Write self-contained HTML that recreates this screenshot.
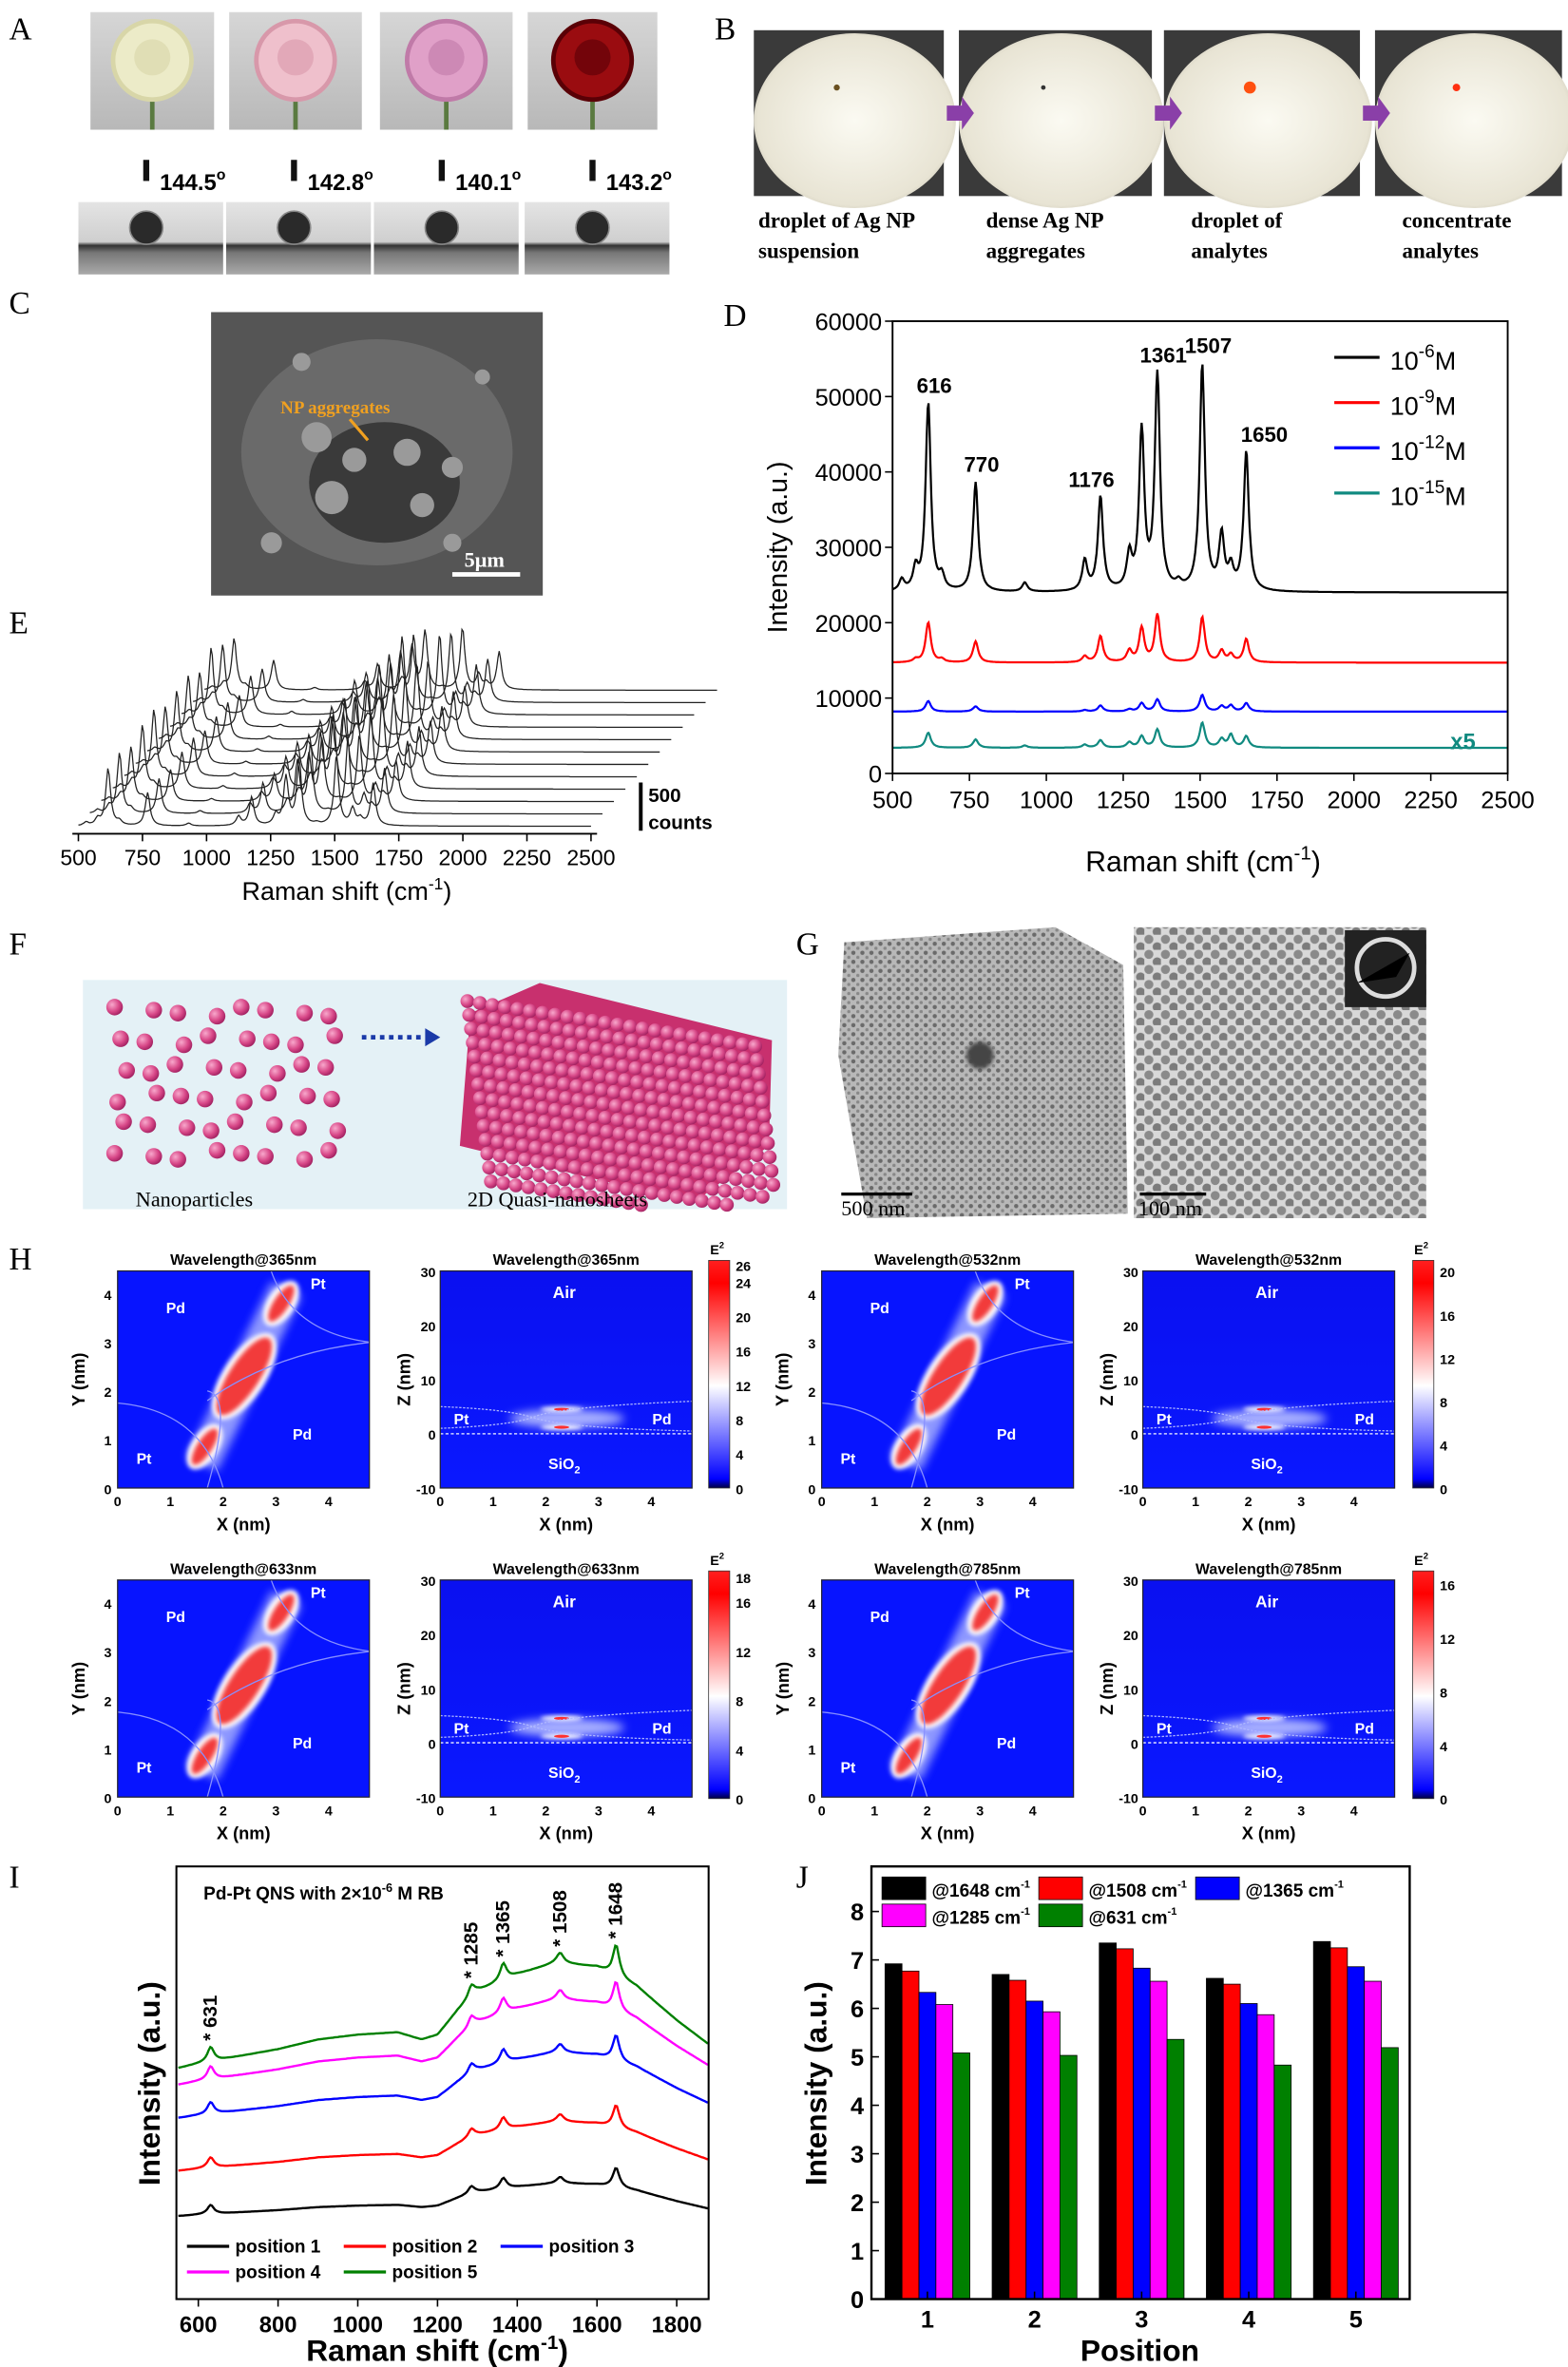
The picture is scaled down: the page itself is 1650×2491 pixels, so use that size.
<!DOCTYPE html>
<html><head><meta charset="utf-8"><style>
html,body{margin:0;padding:0;background:#fff}
svg{display:block}
text{font-family:"Liberation Sans",sans-serif}
.serif{font-family:"Liberation Serif",serif}
.b{font-weight:bold}
</style></head><body>
<svg id="fig" width="1650" height="2491" viewBox="0 0 1040 1570" xmlns="http://www.w3.org/2000/svg">
<defs>
<filter id="blur3" x="-50%" y="-50%" width="200%" height="200%"><feGaussianBlur stdDeviation="3"/></filter>
<filter id="blur1" x="-50%" y="-50%" width="200%" height="200%"><feGaussianBlur stdDeviation="1.5"/></filter>
<linearGradient id="cbar" x1="0" y1="1" x2="0" y2="0">
<stop offset="0" stop-color="#000040"/><stop offset="0.04" stop-color="#0000ff"/><stop offset="0.45" stop-color="#ffffff"/><stop offset="0.9" stop-color="#ff0000"/><stop offset="1" stop-color="#ff2020"/></linearGradient>
<linearGradient id="bgGray" x1="0" y1="0" x2="0" y2="1"><stop offset="0" stop-color="#d6d6d6"/><stop offset="1" stop-color="#b8b8b8"/></linearGradient>
<linearGradient id="strip" x1="0" y1="0" x2="0" y2="1"><stop offset="0" stop-color="#e4e4e4"/><stop offset="0.55" stop-color="#cfcfcf"/><stop offset="0.6" stop-color="#333"/><stop offset="0.7" stop-color="#777"/><stop offset="1" stop-color="#aaa"/></linearGradient>
<radialGradient id="petal" cx="0.5" cy="0.5" r="0.6"><stop offset="0" stop-color="#fbfaf2"/><stop offset="0.8" stop-color="#e8e4d4"/><stop offset="1" stop-color="#b8b4a4"/></radialGradient>
<radialGradient id="sphere" cx="0.35" cy="0.35" r="0.7"><stop offset="0" stop-color="#f8a8cc"/><stop offset="0.6" stop-color="#d84888"/><stop offset="1" stop-color="#a02060"/></radialGradient>
<pattern id="tem1" width="6" height="6" patternUnits="userSpaceOnUse"><rect width="6" height="6" fill="#b8b8b8"/><circle cx="2" cy="2" r="1.4" fill="#6a6a6a"/><circle cx="5" cy="5" r="1.1" fill="#888"/></pattern>
<pattern id="tem2" width="11" height="10" patternUnits="userSpaceOnUse"><rect width="11" height="10" fill="#d8d8d8"/><circle cx="3" cy="3" r="3" fill="#8a8a8a"/><circle cx="8.5" cy="8" r="3" fill="#7c7c7c"/></pattern>
<linearGradient id="zxbg" x1="0" y1="0" x2="0" y2="1"><stop offset="0" stop-color="#0a10f0"/><stop offset="1" stop-color="#0a18ff"/></linearGradient>
</defs>

<g class="serif" font-size="21">
<text class="serif" x="6" y="26">A</text><text class="serif" x="474" y="26">B</text>
<text class="serif" x="6" y="208">C</text><text class="serif" x="480" y="216">D</text>
<text class="serif" x="6" y="420">E</text><text class="serif" x="6" y="633">F</text>
<text class="serif" x="528" y="633">G</text><text class="serif" x="6" y="842">H</text>
<text class="serif" x="6" y="1252">I</text><text class="serif" x="528" y="1252">J</text>
</g>

<g id="panelA"></g>
<g id="panelB"></g>
<g font-size="14.5" font-weight="bold">
<text class="serif" x="503" y="151">droplet of Ag NP</text><text class="serif" x="503" y="171">suspension</text>
<text class="serif" x="654" y="151">dense Ag NP</text><text class="serif" x="654" y="171">aggregates</text>
<text class="serif" x="790" y="151">droplet of</text><text class="serif" x="790" y="171">analytes</text>
<text class="serif" x="930" y="151">concentrate</text><text class="serif" x="930" y="171">analytes</text>
</g>
<g id="panelC"></g>
<g id="panelD"></g>
<g id="panelE"></g>
<g id="panelF"></g>
<g id="panelG"></g>
<g id="panelH"></g>
<g id="panelI"></g>
<g id="panelJ"></g>
</svg>

<script>
// ---------- Panel D data ----------
const dTicksX=[500,750,1000,1250,1500,1750,2000,2250,2500];
const dTicksY=[0,10000,20000,30000,40000,50000,60000];
const dSeriesNames=['-6','-9','-12','-15'];
const dColors=['#000','#ff0000','#0000ff','#108a80'];
const dBaselines=[24000,14700,8200,3400];
const dPeakPos=[530,575,616,660,770,930,1125,1176,1270,1310,1361,1430,1507,1570,1600,1650];
const dPeakBlack=[1500,2800,25000,1800,14500,1200,4000,12500,4500,21000,28500,800,30000,7200,2800,18500];
const dPeakRed=[0,400,5300,400,2800,0,800,3500,1500,4500,6300,0,6000,1500,1000,3100];
const dPeakBlue=[0,0,1400,0,700,0,200,800,300,1100,1600,0,2200,700,800,1100];
const dPeakTeal=[0,0,2000,0,1100,300,400,1000,700,1500,2400,0,3300,1100,1700,1500];
const dPeakLabels=['616','770','1176','1361','1507','1650'];
const dPeakLabelY=[50500,40000,38000,54500,55800,44000];
// ---------- Panel E data ----------
const eTicks=[500,750,1000,1250,1500,1750,2000,2250,2500];
const eScales=[0.95,1.0,0.9,1.05,1.1,0.95,1.0,1.05,0.9,1.1,0.95,0.85];
// ---------- Panel I data ----------
const iTicks=[600,800,1000,1200,1400,1600,1800];
const iBgX=[545,600,700,800,900,1000,1100,1160,1200,1250,1300,1400,1500,1600,1700,1800,1880];
const iBgY=[0.0,0.1,0.25,0.4,0.6,0.7,0.75,0.6,0.7,1.2,1.6,1.95,2.2,2.1,1.7,1.0,0.5];
const iBgScale=[1,1.5,2.0,2.6,3.2];
const iPeakPos=[631,1285,1365,1508,1648];
const iPeakH=[0.6,0.5,0.7,0.4,1.3];
const iOffsets=[5.5,8.5,12,14.2,15.3];
const iNames=['position 1','position 2','position 3','position 4','position 5'];
const iColors=['#000','#ff0000','#0000ff','#ff00ff','#008000'];
const iPeakLabels=['631','1285','1365','1508','1648'];
// ---------- Panel J data ----------
const jCats=['1','2','3','4','5'];
const jSeriesNames=['@1648 cm','@1508 cm','@1365 cm','@1285 cm','@631 cm'];
const jColors=['#000','#ff0000','#0000ff','#ff00ff','#008000'];
const j1648=[6.92,6.70,7.35,6.62,7.38];
const j1508=[6.77,6.58,7.23,6.50,7.25];
const j1365=[6.33,6.15,6.83,6.10,6.86];
const j1285=[6.08,5.93,6.56,5.87,6.56];
const j631=[5.08,5.03,5.36,4.83,5.19];
const jTicks=[0,1,2,3,4,5,6,7,8];
// ---------- Panel H data ----------
const hTitles=['Wavelength@365nm','Wavelength@532nm','Wavelength@633nm','Wavelength@785nm'];
const hCbarTicks=[[0,4,8,12,16,20,24,26],[0,4,8,12,16,20],[0,4,8,12,16,18],[0,4,8,12,16]];
const hCbarMax=[26.5,21,18.5,17];
const hXTicks=[0,1,2,3,4];
const hYTicks=[0,1,2,3,4];
const hZTicks=[-10,0,10,20,30];

const NS='http://www.w3.org/2000/svg';
function mk(tag,attrs,parent,name,inter){
  const el=document.createElementNS(NS,tag);
  for(const k in attrs) el.setAttribute(k,attrs[k]);
  
  
  parent.appendChild(el);return el;
}
function txt(parent,x,y,s,attrs,name){
  const a=Object.assign({x:x,y:y},attrs||{});
  const t=mk('text',a,parent,name||'label');
  t.textContent=s;return t;
}
function lor(x,ps,hs,w){let s=0;for(let i=0;i<ps.length;i++){const d=(x-ps[i])/w;s+=hs[i]/(1+d*d);}return s;}

// ---------- A ----------
(function(){
 const g=document.getElementById('panelA');
 const photos=[[60,82,'#ecebc8','#d8d6a8'],[152,88,'#efc0cc','#d898aa'],[252,88,'#e0a0c8','#c07aa8'],[350,86,'#9a0c10','#5a0006']];
 photos.forEach((p,i)=>{
  mk('rect',{x:p[0],y:8,width:p[1],height:78,fill:'url(#bgGray)'},g,'rose-photo-'+(i+1));
  mk('line',{x1:p[0]+p[1]/2,y1:60,x2:p[0]+p[1]/2,y2:86,stroke:'#5a7a40','stroke-width':3},g,'rose-stem');
  mk('circle',{cx:p[0]+p[1]/2,cy:40,r:26,fill:p[2],stroke:p[3],'stroke-width':3},g,'rose-flower');
  mk('circle',{cx:p[0]+p[1]/2,cy:38,r:12,fill:p[3],opacity:0.6},g,'rose-center');
 });
 const strips=[[52,96],[150,96],[248,96],[348,96]];
 const ang=['144.5','142.8','140.1','143.2'];
 strips.forEach((s,i)=>{
  mk('rect',{x:s[0],y:134,width:s[1],height:48,fill:'url(#strip)'},g,'contact-angle-image-'+(i+1));
  mk('circle',{cx:s[0]+s[1]/2-3,cy:151,r:11,fill:'#2a2a2a',stroke:'#888','stroke-width':1},g,'water-droplet');
  mk('rect',{x:s[0]+s[1]/2-5,y:106,width:4,height:14,fill:'#111'},g,'needle');
  const t=txt(g,s[0]+s[1]/2+6,126,ang[i],{'font-size':15,'font-weight':'bold'},'contact-angle-value');
  const ts=mk('tspan',{dy:-7,'font-size':10},t,'degree-sign');ts.textContent='o';
 });
})();

// ---------- B ----------
(function(){
 const g=document.getElementById('panelB');
 const ph=[[500,126,'#6a5020',2],[636,128,'#333',1.5],[772,130,'#ff5010',4],[912,124,'#ff3010',2.5]];
 ph.forEach((p,i)=>{
  mk('rect',{x:p[0],y:20,width:p[1],height:110,fill:'#3a3a3a'},g,'petal-photo-'+(i+1));
  mk('ellipse',{cx:p[0]+p[1]/2+4,cy:80,rx:p[1]/2+4,ry:58,fill:'url(#petal)'},g,'petal');
  mk('circle',{cx:p[0]+p[1]/2-8,cy:58,r:p[3],fill:p[2]},g,'droplet');
 });
 for(let i=0;i<3;i++){
  const x=628+i*138;
  mk('polygon',{points:`${x},70 ${x+10},70 ${x+10},64 ${x+18},75 ${x+10},86 ${x+10},80 ${x},80`,fill:'#8a3fa8'},g,'process-arrow');
 }
})();

// ---------- C ----------
(function(){
 const g=document.getElementById('panelC');
 mk('rect',{x:140,y:207,width:220,height:188,fill:'#555'},g,'sem-background');
 mk('ellipse',{cx:250,cy:300,rx:90,ry:75,fill:'#6a6a6a'},g,'sem-particle');
 mk('ellipse',{cx:255,cy:320,rx:50,ry:40,fill:'#3a3a3a'},g,'sem-aggregate');
 const blobs=[[210,290,10],[235,305,8],[270,300,9],[220,330,11],[280,335,8],[300,310,7],[200,240,6],[320,250,5],[180,360,7],[300,360,6]];
 blobs.forEach(b=>mk('circle',{cx:b[0],cy:b[1],r:b[2],fill:'#9a9a9a'},g,'sem-blob'));
 txt(g,186,274,'NP aggregates',{'font-size':12,'font-weight':'bold',fill:'#f0a020',class:'serif'},'np-aggregates-annotation');
 mk('path',{d:'M232 278 L244 292',stroke:'#f0a020','stroke-width':2},g,'annotation-arrow');
 mk('line',{x1:300,y1:381,x2:345,y2:381,stroke:'#fff','stroke-width':3},g,'scale-bar');
 txt(g,308,376,'5μm',{'font-size':14,'font-weight':'bold',fill:'#fff',class:'serif'},'scale-bar-label');
})();

// ---------- D ----------
(function(){
 const g=document.getElementById('panelD');
 const X0=592,X1=1000,Y0=513,Y1=213;
 const xS=v=>X0+(v-500)/2000*(X1-X0);
 const yS=v=>Y0-v/60000*(Y0-Y1);
 const peaks=[dPeakBlack,dPeakRed,dPeakBlue,dPeakTeal];
 for(let s=3;s>=0;s--){
  let d='';
  for(let x=500;x<=2500;x+=3){const y=dBaselines[s]+lor(x,dPeakPos,peaks[s],10);d+=(x===500?'M':'L')+xS(x).toFixed(1)+' '+yS(y).toFixed(1);}
  mk('path',{d:d,fill:'none',stroke:dColors[s],'stroke-width':1.4},g,'spectrum-10'+dSeriesNames[s]+'M');
 }
 mk('rect',{x:X0,y:Y1,width:X1-X0,height:Y0-Y1,fill:'none',stroke:'#000','stroke-width':1.2},g,'plot-frame');
 dTicksX.forEach(v=>{mk('line',{x1:xS(v),y1:Y0,x2:xS(v),y2:Y0+5,stroke:'#000'},g,'x-tick');txt(g,xS(v),Y0+23,String(v),{'font-size':16,'text-anchor':'middle'},'x-tick-label');});
 dTicksY.forEach(v=>{mk('line',{x1:X0,y1:yS(v),x2:X0-5,y2:yS(v),stroke:'#000'},g,'y-tick');txt(g,X0-7,yS(v)+6,String(v),{'font-size':16,'text-anchor':'end'},'y-tick-label');});
 const labPos=[616,770,1176,1361,1507,1650];
 dPeakLabels.forEach((l,i)=>txt(g,xS(labPos[i])+(i==2?-6:i==5?12:4),yS(dPeakLabelY[i]),l,{'font-size':14,'font-weight':'bold','text-anchor':'middle'},'peak-label-'+l));
 dSeriesNames.forEach((n,i)=>{
  const y=237+i*30;
  mk('line',{x1:885,y1:y,x2:915,y2:y,stroke:dColors[i],'stroke-width':2},g,'legend-line');
  const t=txt(g,922,y+8,'10',{'font-size':17},'legend-entry-10'+n+'M');
  const sp=mk('tspan',{dy:-8,'font-size':12},t,'exponent');sp.textContent=n;
  const m=mk('tspan',{dy:8},t,'unit');m.textContent='M';
 });
 txt(g,962,497,'x5',{'font-size':15,'font-weight':'bold',fill:'#108a80'},'x5-annotation');
 txt(g,522,363,'Intensity (a.u.)',{'font-size':18,'text-anchor':'middle',transform:'rotate(-90 522 363)'},'y-axis-title');
 const xt=txt(g,798,578,'Raman shift (cm',{'font-size':19,'text-anchor':'middle'},'x-axis-title');
 const e1=mk('tspan',{dy:-8,'font-size':13},xt,'exponent');e1.textContent='-1';
 const e2=mk('tspan',{dy:8},xt,'paren');e2.textContent=')';
})();

// ---------- E ----------
(function(){
 const g=document.getElementById('panelE');
 const X0=52,X1=392,base=548;
 const xS=v=>X0+(v-500)/2000*(X1-X0);
 for(let s=eScales.length-1;s>=0;s--){
  const dx=s*7.6,dy=-s*8.2;let d='';
  for(let x=500;x<=2500;x+=5){const y=base+dy-lor(x,dPeakPos,dPeakBlack,11)*0.0016*eScales[s];d+=(x===500?'M':'L')+(xS(x)+dx).toFixed(1)+' '+y.toFixed(1);}
  mk('path',{d:d,fill:'none',stroke:'#222','stroke-width':0.8},g,'waterfall-spectrum-'+(s+1));
 }
 mk('line',{x1:48,y1:553,x2:396,y2:553,stroke:'#000','stroke-width':1.2},g,'x-axis-line');
 eTicks.forEach(v=>{mk('line',{x1:xS(v),y1:553,x2:xS(v),y2:558,stroke:'#000'},g,'x-tick');txt(g,xS(v),574,String(v),{'font-size':14.5,'text-anchor':'middle'},'x-tick-label');});
 const xt=txt(g,230,597,'Raman shift (cm',{'font-size':17,'text-anchor':'middle'},'x-axis-title');
 const e1=mk('tspan',{dy:-7,'font-size':11},xt,'exponent');e1.textContent='-1';
 const e2=mk('tspan',{dy:7},xt,'paren');e2.textContent=')';
 mk('line',{x1:425,y1:519,x2:425,y2:551,stroke:'#000','stroke-width':2.5},g,'scale-bar');
 txt(g,430,532,'500',{'font-size':13,'font-weight':'bold'},'scale-bar-value');
 txt(g,430,550,'counts',{'font-size':13,'font-weight':'bold'},'scale-bar-unit');
})();

// ---------- F ----------
(function(){
 const g=document.getElementById('panelF');
 mk('rect',{x:55,y:650,width:467,height:152,fill:'#e4f1f6'},g,'schematic-background');
 for(let r=0;r<6;r++)for(let c=0;c<8;c++){
  const x=76+c*20+((r*7+c*3)%5)*2,y=668+r*19+((c*5+r)%4)*2;
  mk('circle',{cx:x,cy:y,r:5.5,fill:'url(#sphere)'},g,'nanoparticle');
 }
 mk('line',{x1:240,y1:688,x2:282,y2:688,stroke:'#1a3aa8','stroke-width':3,'stroke-dasharray':'3 3'},g,'transform-arrow');
 mk('polygon',{points:'282,682 292,688 282,694',fill:'#1a3aa8'},g,'arrow-head');
 mk('polygon',{points:'312,672 358,652 512,690 510,760 460,798 305,760',fill:'#c8306e'},g,'nanosheet-body');
 for(let r=0;r<14;r++)for(let c=0;c<24;c++){
  const x=310+c*8.3+r*1.2,y=664+r*9.2+c*1.3;
  if(y<800&&x<514) mk('circle',{cx:x,cy:y,r:4.6,fill:'url(#sphere)'},g,'nanosheet-sphere');
 }
 txt(g,90,800,'Nanoparticles',{'font-size':14,class:'serif'},'nanoparticles-caption');
 txt(g,310,800,'2D Quasi-nanosheets',{'font-size':14,class:'serif'},'nanosheets-caption');
})();

// ---------- G ----------
(function(){
 const g=document.getElementById('panelG');
 mk('rect',{x:555,y:615,width:193,height:193,fill:'#fff'},g,'tem-low-mag-bg');
 mk('polygon',{points:'560,625 700,615 745,640 748,805 575,808 556,700',fill:'url(#tem1)'},g,'tem-low-mag');
 mk('circle',{cx:650,cy:700,r:9,fill:'#444',filter:'url(#blur1)'},g,'tem-dark-spot');
 mk('rect',{x:752,y:615,width:194,height:193,fill:'url(#tem2)'},g,'tem-high-mag');
 mk('rect',{x:892,y:617,width:54,height:51,fill:'#222'},g,'saed-inset');
 mk('circle',{cx:919,cy:642,r:19,fill:'none',stroke:'#ddd','stroke-width':3},g,'saed-ring');
 mk('path',{d:'M900 652 L935 632 L926 648 Z',fill:'#000'},g,'beam-stop');
 mk('line',{x1:558,y1:792,x2:605,y2:792,stroke:'#000','stroke-width':2},g,'scale-bar-500');
 txt(g,558,806,'500 nm',{'font-size':14,class:'serif'},'scale-label-500nm');
 mk('line',{x1:756,y1:792,x2:800,y2:792,stroke:'#000','stroke-width':2},g,'scale-bar-100');
 txt(g,755,806,'100 nm',{'font-size':14,class:'serif'},'scale-label-100nm');
})();

// ---------- H ----------
(function(){
 const g=document.getElementById('panelH');
 const W=167;
 const panels=[[78,843,292,470,836,0],[545,843,758,937,836,1],[78,1048,292,470,1042,2],[545,1048,758,937,1042,3]];
 panels.forEach(p=>{
  const [xx,yy,zx,cbx,cby,k]=p;const H=144;
  const xS=v=>xx+v*35, yS=v=>yy+H-v*H/4.47;
  mk('text',{x:xx+W/2,y:yy-4,'font-size':10,'font-weight':'bold','text-anchor':'middle'},g,'map-title').textContent=hTitles[k];
  const cid='clipxy'+k;const cp=mk('clipPath',{id:cid},g,'clip');mk('rect',{x:xx,y:yy,width:W,height:H},cp,'clip-rect');
  const m=mk('g',{'clip-path':`url(#${cid})`},g,'xy-field-map');
  mk('rect',{x:xx,y:yy,width:W,height:H,fill:'#0714ff'},m,'map-background');
  mk('line',{x1:xS(1.6),y1:yS(0.5),x2:xS(3.2),y2:yS(4.1),stroke:'#c8d0ff','stroke-width':22,filter:'url(#blur3)',opacity:0.7},m,'hotspot-glow');
  const blobs=[[1.65,0.85,7,14],[2.4,2.3,12,30],[3.1,3.8,7,14]];
  blobs.forEach(b=>{
   const cx=xS(b[0]),cy=yS(b[1]);const rot=`rotate(-57 ${cx} ${cy})`;
   mk('ellipse',{cx:cx,cy:cy,rx:b[3]+3,ry:b[2]+2,fill:'#fff',transform:rot,filter:'url(#blur1)'},m,'hotspot-white');
   mk('ellipse',{cx:cx,cy:cy,rx:b[3],ry:b[2]-2,fill:'#f23a3a',transform:rot,filter:'url(#blur1)'},m,'hotspot-red');
  });
  mk('path',{d:`M${xS(0)} ${yS(1.75)} Q${xS(1.6)} ${yS(1.6)} ${xS(2)} ${yS(0)} M${xS(1.7)} ${yS(2.0)} Q${xS(2.2)} ${yS(1.9)} ${xS(1.7)} ${yS(0)} M${xS(2.9)} ${yS(4.5)} Q${xS(3.3)} ${yS(3.2)} ${xS(4.8)} ${yS(3.0)} M${xS(1.7)} ${yS(1.8)} Q${xS(3)} ${yS(2.8)} ${xS(4.8)} ${yS(3.0)}`,fill:'none',stroke:'#8890ff','stroke-width':0.8},m,'interface-lines');
  [['Pd',1.1,3.6],['Pt',3.8,4.1],['Pt',0.5,0.5],['Pd',3.5,1.0]].forEach(l=>txt(m,xS(l[1]),yS(l[2]),l[0],{'font-size':10,'font-weight':'bold',fill:'#fff','text-anchor':'middle'},'region-label'));
  mk('rect',{x:xx,y:yy,width:W,height:H,fill:'none',stroke:'#223','stroke-width':0.8},g,'map-frame');
  hXTicks.forEach(v=>txt(g,xS(v),yy+H+12,String(v),{'font-size':9,'font-weight':'bold','text-anchor':'middle'},'x-tick-label'));
  hYTicks.forEach(v=>txt(g,xx-4,yS(v)+4,String(v),{'font-size':9,'font-weight':'bold','text-anchor':'end'},'y-tick-label'));
  txt(g,xx+W/2,yy+H+28,'X (nm)',{'font-size':11.5,'font-weight':'bold','text-anchor':'middle'},'x-axis-title');
  txt(g,xx-22,yy+H/2,'Y (nm)',{'font-size':11.5,'font-weight':'bold','text-anchor':'middle',transform:`rotate(-90 ${xx-22} ${yy+H/2})`},'y-axis-title');
  const zS=v=>yy+H-(v+10)/40*H, xz=v=>zx+v*35;
  mk('text',{x:zx+W/2,y:yy-4,'font-size':10,'font-weight':'bold','text-anchor':'middle'},g,'map-title').textContent=hTitles[k];
  const cid2='clipzx'+k;const cp2=mk('clipPath',{id:cid2},g,'clip');mk('rect',{x:zx,y:yy,width:W,height:H},cp2,'clip-rect');
  const z=mk('g',{'clip-path':`url(#${cid2})`},g,'zx-field-map');
  mk('rect',{x:zx,y:yy,width:W,height:H,fill:'url(#zxbg)'},z,'map-background');
  mk('ellipse',{cx:xz(2.4),cy:zS(2.8),rx:38,ry:6,fill:'#a8b0ff',filter:'url(#blur3)'},z,'field-glow');
  mk('ellipse',{cx:xz(2.3),cy:zS(4.5),rx:14,ry:1.8,fill:'#fff',filter:'url(#blur1)'},z,'hotspot-top');
  mk('ellipse',{cx:xz(2.3),cy:zS(1.2),rx:14,ry:1.8,fill:'#fff',filter:'url(#blur1)'},z,'hotspot-bottom');
  mk('ellipse',{cx:xz(2.3),cy:zS(4.5),rx:5,ry:1,fill:'#ff3030'},z,'hotspot-core');
  mk('ellipse',{cx:xz(2.3),cy:zS(1.2),rx:5,ry:1,fill:'#ff3030'},z,'hotspot-core');
  mk('path',{d:`M${xz(0)} ${zS(5)} Q${xz(1.3)} ${zS(4.5)} ${xz(1.75)} ${zS(3)} Q${xz(2.2)} ${zS(5)} ${xz(4.8)} ${zS(6)} M${xz(0)} ${zS(1)} Q${xz(1.3)} ${zS(1.5)} ${xz(1.75)} ${zS(3)} Q${xz(2.4)} ${zS(1)} ${xz(4.8)} ${zS(0.5)}`,fill:'none',stroke:'#b0b8ff','stroke-width':0.8,'stroke-dasharray':'1.5 1'},z,'interface-lines');
  mk('line',{x1:zx,y1:zS(0),x2:zx+W,y2:zS(0),stroke:'#d0d4ff','stroke-width':1,'stroke-dasharray':'2 1.5'},z,'substrate-line');
  txt(z,xz(2.35),zS(25),'Air',{'font-size':11,'font-weight':'bold',fill:'#fff','text-anchor':'middle'},'air-label');
  txt(z,xz(0.4),zS(1.7),'Pt',{'font-size':10,'font-weight':'bold',fill:'#fff','text-anchor':'middle'},'pt-label');
  txt(z,xz(4.2),zS(1.7),'Pd',{'font-size':10,'font-weight':'bold',fill:'#fff','text-anchor':'middle'},'pd-label');
  const st=txt(z,xz(2.35),zS(-6.5),'SiO',{'font-size':10,'font-weight':'bold',fill:'#fff','text-anchor':'middle'},'sio2-label');
  const sb=mk('tspan',{dy:3,'font-size':7},st,'subscript');sb.textContent='2';
  mk('rect',{x:zx,y:yy,width:W,height:H,fill:'none',stroke:'#223','stroke-width':0.8},g,'map-frame');
  hXTicks.forEach(v=>txt(g,xz(v),yy+H+12,String(v),{'font-size':9,'font-weight':'bold','text-anchor':'middle'},'x-tick-label'));
  hZTicks.forEach(v=>txt(g,zx-3,zS(v)+4,String(v),{'font-size':9,'font-weight':'bold','text-anchor':'end'},'z-tick-label'));
  txt(g,zx+W/2,yy+H+28,'X (nm)',{'font-size':11.5,'font-weight':'bold','text-anchor':'middle'},'x-axis-title');
  txt(g,zx-20,yy+H/2,'Z (nm)',{'font-size':11.5,'font-weight':'bold','text-anchor':'middle',transform:`rotate(-90 ${zx-20} ${yy+H/2})`},'z-axis-title');
  const ch=151,cw=14;
  mk('rect',{x:cbx,y:cby,width:cw,height:ch,fill:'url(#cbar)',stroke:'#333','stroke-width':0.5},g,'colorbar');
  const ct=txt(g,cbx+1,cby-4,'E',{'font-size':9,'font-weight':'bold'},'colorbar-title');
  const cs=mk('tspan',{dy:-4,'font-size':6},ct,'exponent');cs.textContent='2';
  hCbarTicks[k].forEach(v=>txt(g,cbx+cw+4,cby+ch-v/hCbarMax[k]*ch+4,String(v),{'font-size':9,'font-weight':'bold'},'colorbar-tick-label'));
 });
})();

// ---------- I ----------
(function(){
 const g=document.getElementById('panelI');
 const X0=117,X1=470,Y0=1525,Y1=1238;
 const xS=v=>X0+(v-545)/(1880-545)*(X1-X0);
 const yS=v=>Y0-v*10;
 function bg(x){for(let i=0;i<iBgX.length-1;i++){if(x<=iBgX[i+1]){const t=(x-iBgX[i])/(iBgX[i+1]-iBgX[i]);return iBgY[i]+t*(iBgY[i+1]-iBgY[i]);}}return iBgY[iBgY.length-1];}
 const val=(s,x)=>iOffsets[s]+bg(x)*iBgScale[s]+lor(x,iPeakPos,iPeakH,10)*(1+s*0.15);
 for(let s=0;s<iOffsets.length;s++){
  let d='';
  for(let x=550;x<=1878;x+=4){const y=val(s,x);d+=(x===550?'M':'L')+xS(x).toFixed(1)+' '+yS(y).toFixed(1);}
  mk('path',{d:d,fill:'none',stroke:iColors[s],'stroke-width':1.5},g,'spectrum-'+iNames[s].replace(' ','-'));
 }
 mk('rect',{x:X0,y:Y1,width:X1-X0,height:Y0-Y1,fill:'none',stroke:'#000','stroke-width':1.3},g,'plot-frame');
 iTicks.forEach(v=>{mk('line',{x1:xS(v),y1:Y0,x2:xS(v),y2:Y0+5,stroke:'#000'},g,'x-tick');txt(g,xS(v),Y0+22,String(v),{'font-size':15,'font-weight':'bold','text-anchor':'middle'},'x-tick-label');});
 const tt=txt(g,135,1260,'Pd-Pt QNS with 2×10',{'font-size':12,'font-weight':'bold'},'chart-title');
 const te=mk('tspan',{dy:-5,'font-size':8},tt,'exponent');te.textContent='-6';
 const tr=mk('tspan',{dy:5},tt,'title-rest');tr.textContent=' M RB';
 iPeakLabels.forEach((l,i)=>{
  const x=iPeakPos[i];const y=yS(val(4,x))-4;
  txt(g,xS(x)+4,y,'* '+l,{'font-size':13,'font-weight':'bold',transform:`rotate(-90 ${xS(x)+4} ${y})`},'peak-label-'+l);
 });
 iNames.forEach((n,i)=>{
  const col=i%3,row=Math.floor(i/3);const x=124+col*104,y=1490+row*17;
  mk('line',{x1:x,y1:y,x2:x+28,y2:y,stroke:iColors[i],'stroke-width':2},g,'legend-line');
  txt(g,x+32,y+4,n,{'font-size':12,'font-weight':'bold'},'legend-entry-'+n.replace(' ','-'));
 });
 txt(g,106,1382,'Intensity (a.u.)',{'font-size':20,'font-weight':'bold','text-anchor':'middle',transform:'rotate(-90 106 1382)'},'y-axis-title');
 const xt=txt(g,290,1566,'Raman shift (cm',{'font-size':20,'font-weight':'bold','text-anchor':'middle'},'x-axis-title');
 const e1=mk('tspan',{dy:-8,'font-size':13},xt,'exponent');e1.textContent='-1';
 const e2=mk('tspan',{dy:8},xt,'paren');e2.textContent=')';
})();

// ---------- J ----------
(function(){
 const g=document.getElementById('panelJ');
 const X0=578,X1=935,Y0=1525,Y1=1238,W=X1-X0;
 const yS=v=>Y0-v/8.93*(Y0-Y1);
 const xC=i=>X0+W*(0.104+0.199*i);
 const series=[j1648,j1508,j1365,j1285,j631];
 const bw=W*0.0315;
 series.forEach((vals,s)=>{
  vals.forEach((v,i)=>{
   const x=xC(i)+(s-2.5)*bw;
   mk('rect',{x:x,y:yS(v),width:bw,height:yS(0)-yS(v),fill:jColors[s],stroke:'#000','stroke-width':0.5},g,'bar-pos'+jCats[i]+'-'+s);
  });
 });
 mk('rect',{x:X0,y:Y1,width:W,height:Y0-Y1,fill:'none',stroke:'#000','stroke-width':1.5},g,'plot-frame');
 jTicks.forEach(v=>{mk('line',{x1:X0,y1:yS(v),x2:X0+5,y2:yS(v),stroke:'#000'},g,'y-tick');txt(g,X0-5,yS(v)+6,String(v),{'font-size':16,'font-weight':'bold','text-anchor':'end'},'y-tick-label');});
 jCats.forEach((c,i)=>{mk('line',{x1:xC(i),y1:Y0,x2:xC(i),y2:Y0-5,stroke:'#000'},g,'x-tick');txt(g,xC(i),Y0+19,c,{'font-size':16,'font-weight':'bold','text-anchor':'middle'},'x-tick-label');});
 const lp=[[585,1245],[689,1245],[793,1245],[585,1263],[689,1263]];
 jSeriesNames.forEach((n,i)=>{
  mk('rect',{x:lp[i][0],y:lp[i][1],width:29,height:15,fill:jColors[i],stroke:'#000','stroke-width':0.5},g,'legend-swatch');
  const t=txt(g,lp[i][0]+33,lp[i][1]+13,n,{'font-size':12,'font-weight':'bold'},'legend-entry-'+n.replace(/[@ ]/g,''));
  const sp=mk('tspan',{dy:-6,'font-size':7},t,'exponent');sp.textContent='-1';
 });
 txt(g,548,1382,'Intensity (a.u.)',{'font-size':20,'font-weight':'bold','text-anchor':'middle',transform:'rotate(-90 548 1382)'},'y-axis-title');
 txt(g,756,1566,'Position',{'font-size':20,'font-weight':'bold','text-anchor':'middle'},'x-axis-title');
})();
</script>
</body></html>
